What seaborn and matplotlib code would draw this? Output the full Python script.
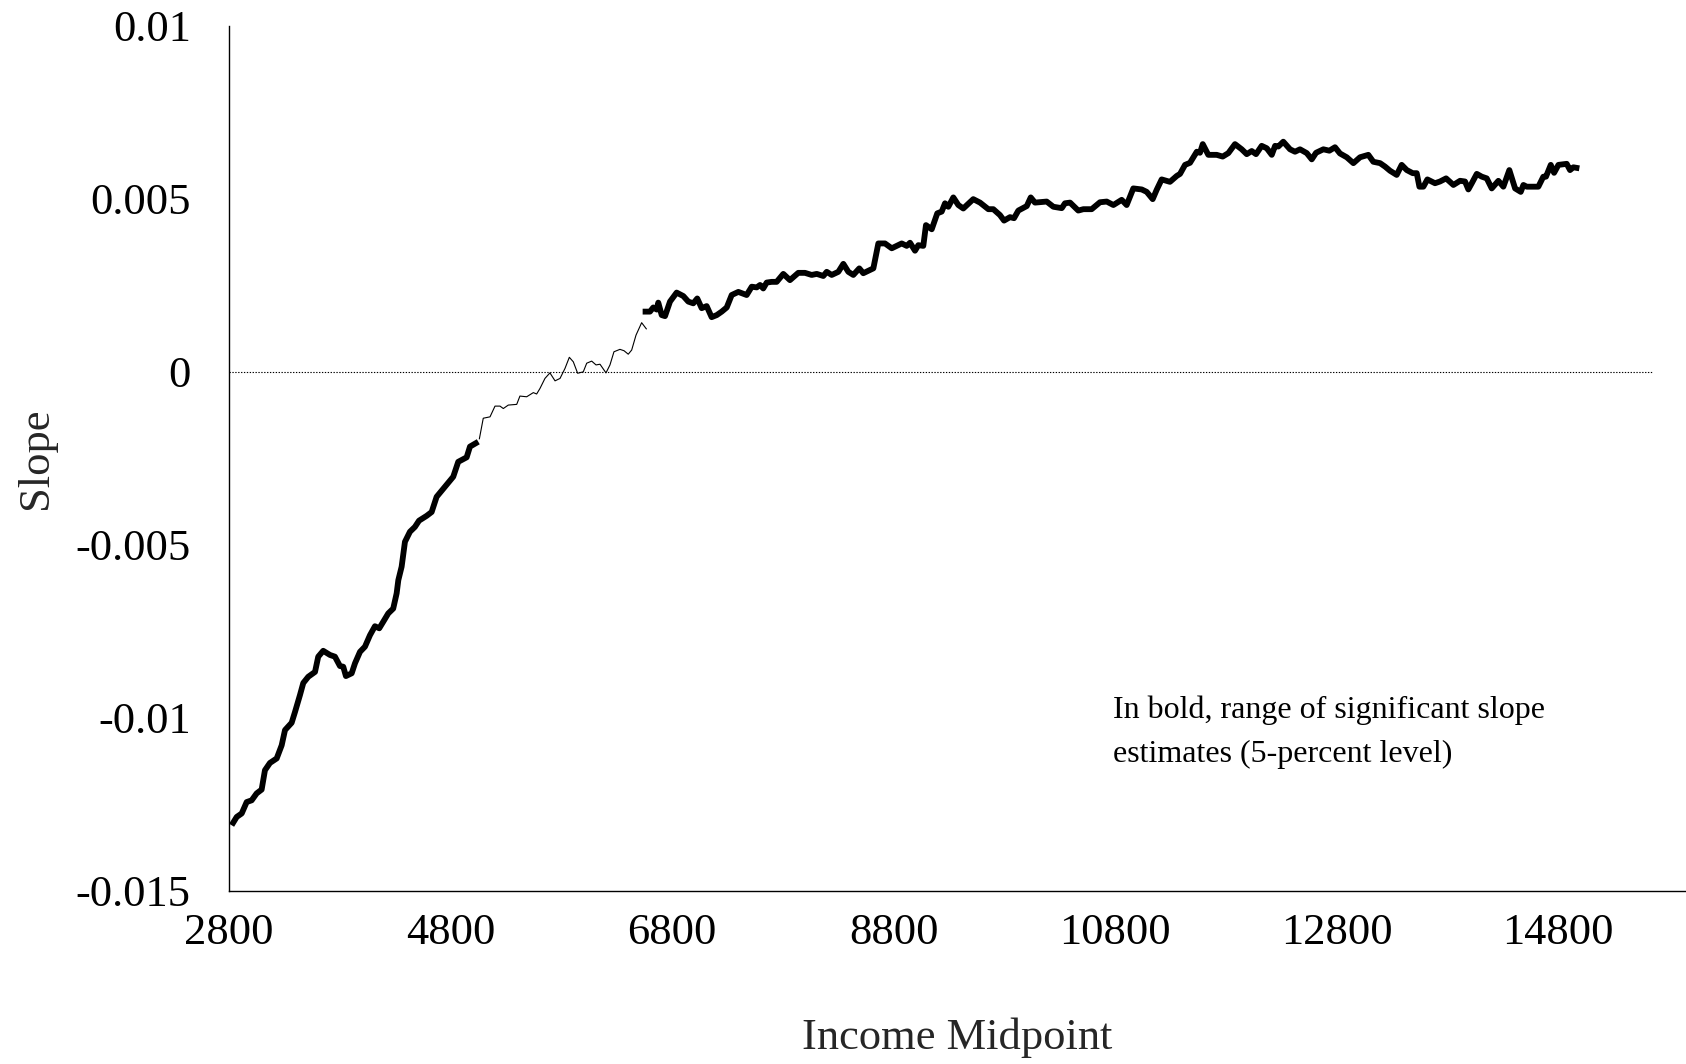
import matplotlib
matplotlib.use("Agg")
import matplotlib.pyplot as plt
import pandas as pd
import seaborn as sns

# Rolling slope estimates by income midpoint.
# Bold segments: estimates significant at the 5-percent level.
low_income = [2824, 2870, 2915, 2960, 3005, 3050, 3095, 3125, 3170, 3231,
              3276, 3306, 3366, 3396, 3441, 3471, 3516, 3577, 3606, 3651,
              3712, 3757, 3802, 3832, 3856, 3908, 3938, 3983, 4028, 4073,
              4118, 4157, 4193, 4238, 4283, 4314, 4329, 4359, 4389, 4434,
              4479, 4516, 4585, 4630, 4675, 4750, 4825, 4870, 4946, 4976,
              5051]
low_slope = [-0.01310, -0.01286, -0.01276, -0.01243, -0.01238, -0.01218,
             -0.01207, -0.01151, -0.01130, -0.01117, -0.01079, -0.01035,
             -0.01014, -0.00983, -0.00934, -0.00899, -0.00881, -0.00867,
             -0.00823, -0.00806, -0.00818, -0.00823, -0.00850, -0.00852,
             -0.00879, -0.00871, -0.00842, -0.00809, -0.00794, -0.00761,
             -0.00735, -0.00741, -0.00722, -0.00698, -0.00684, -0.00640,
             -0.00602, -0.00563, -0.00491, -0.00462, -0.00448, -0.00430,
             -0.00416, -0.00405, -0.00361, -0.00332, -0.00303, -0.00260,
             -0.00247, -0.00216, -0.00202]

mid_income = [5060, 5096, 5157, 5202, 5247, 5277, 5322, 5398, 5427, 5488,
              5548, 5578, 5608, 5653, 5698, 5744, 5789, 5834, 5873, 5909,
              5948, 5999, 6030, 6075, 6114, 6150, 6204, 6240, 6276, 6330,
              6367, 6405, 6436, 6475, 6526, 6571]
mid_slope = [-0.00195, -0.00134, -0.00130, -0.00099, -0.00099, -0.00106,
             -0.00096, -0.00094, -0.00070, -0.00072, -0.00060, -0.00064,
             -0.00048, -0.00019, -0.00003, -0.00026, -0.00019, 0.00010,
             0.00042, 0.00029, -0.00004, 0.00000, 0.00025, 0.00031,
             0.00020, 0.00022, -0.00003, 0.00020, 0.00058, 0.00065,
             0.00061, 0.00051, 0.00063, 0.00106, 0.00142, 0.00123]

high_income = [6535, 6601, 6631, 6662, 6676, 6707, 6737, 6782, 6842, 6902,
               6947, 6992, 7028, 7068, 7113, 7158, 7204, 7249, 7294, 7339,
               7399, 7474, 7520, 7565, 7595, 7624, 7655, 7700, 7745, 7805,
               7865, 7940, 8001, 8061, 8107, 8166, 8197, 8242, 8302, 8347,
               8392, 8437, 8491, 8527, 8618, 8663, 8723, 8784, 8874, 8919,
               8949, 8994, 9024, 9069, 9093, 9145, 9195, 9235, 9265, 9295,
               9340, 9385, 9430, 9520, 9581, 9656, 9701, 9761, 9798, 9852,
               9888, 9927, 10003, 10039, 10077, 10183, 10243, 10319, 10348,
               10394, 10468, 10514, 10589, 10664, 10725, 10785, 10860, 10905,
               10965, 11041, 11086, 11140, 11176, 11221, 11296, 11357, 11387,
               11432, 11477, 11538, 11567, 11592, 11642, 11718, 11772, 11823,
               11883, 11944, 11989, 12034, 12073, 12124, 12170, 12215, 12245,
               12274, 12319, 12380, 12425, 12470, 12531, 12576, 12615, 12681,
               12735, 12786, 12831, 12892, 12952, 13012, 13087, 13132, 13193,
               13238, 13283, 13343, 13388, 13434, 13488, 13524, 13548, 13584,
               13620, 13689, 13734, 13789, 13855, 13915, 13960, 13990, 14021,
               14066, 14111, 14156, 14201, 14261, 14306, 14360, 14412, 14463,
               14487, 14517, 14622, 14667, 14691, 14734, 14764, 14803, 14878,
               14908, 14938, 14992]
high_slope = [0.00174, 0.00174, 0.00186, 0.00180, 0.00200, 0.00164, 0.00161,
              0.00203, 0.00229, 0.00219, 0.00203, 0.00198, 0.00212, 0.00184,
              0.00190, 0.00158, 0.00164, 0.00174, 0.00186, 0.00222, 0.00231,
              0.00222, 0.00246, 0.00244, 0.00251, 0.00241, 0.00258, 0.00260,
              0.00260, 0.00283, 0.00265, 0.00286, 0.00286, 0.00280, 0.00283,
              0.00277, 0.00289, 0.00280, 0.00289, 0.00312, 0.00289, 0.00280,
              0.00299, 0.00285, 0.00299, 0.00371, 0.00371, 0.00357, 0.00371,
              0.00364, 0.00373, 0.00350, 0.00366, 0.00364, 0.00424, 0.00412,
              0.00458, 0.00463, 0.00487, 0.00477, 0.00504, 0.00482, 0.00472,
              0.00499, 0.00489, 0.00470, 0.00470, 0.00453, 0.00437, 0.00447,
              0.00444, 0.00466, 0.00479, 0.00504, 0.00489, 0.00492, 0.00477,
              0.00473, 0.00487, 0.00489, 0.00466, 0.00470, 0.00470, 0.00490,
              0.00492, 0.00482, 0.00497, 0.00482, 0.00530, 0.00527, 0.00520,
              0.00499, 0.00526, 0.00556, 0.00549, 0.00566, 0.00572, 0.00598,
              0.00604, 0.00636, 0.00633, 0.00658, 0.00627, 0.00627, 0.00622,
              0.00632, 0.00658, 0.00643, 0.00629, 0.00638, 0.00629, 0.00653,
              0.00646, 0.00627, 0.00653, 0.00651, 0.00665, 0.00643, 0.00636,
              0.00643, 0.00632, 0.00614, 0.00633, 0.00643, 0.00639, 0.00649,
              0.00631, 0.00620, 0.00603, 0.00620, 0.00627, 0.00607, 0.00603,
              0.00593, 0.00581, 0.00569, 0.00598, 0.00583, 0.00574, 0.00574,
              0.00535, 0.00535, 0.00556, 0.00545, 0.00550, 0.00559, 0.00540,
              0.00552, 0.00550, 0.00527, 0.00545, 0.00572, 0.00564, 0.00559,
              0.00530, 0.00552, 0.00535, 0.00583, 0.00530, 0.00520, 0.00540,
              0.00535, 0.00535, 0.00564, 0.00564, 0.00598, 0.00575, 0.00598,
              0.00601, 0.00583, 0.00591, 0.00588]

x_ticks = [2800, 4800, 6800, 8800, 10800, 12800, 14800]
y_ticks = [0.01, 0.005, 0.0, -0.005, -0.01, -0.015]
y_tick_labels = ["0.01", "0.005", "0", "-0.005", "-0.01", "-0.015"]

note_lines = ["In bold, range of significant slope",
              "estimates (5-percent level)"]

sns.set_style("white")
plt.rcParams["font.family"] = ["Liberation Serif", "DejaVu Serif"]
plt.rcParams["axes.unicode_minus"] = False

fig = plt.figure(figsize=(16.86, 10.64), dpi=100)
ax = fig.add_axes([0.1358, 0.1626, 0.8642, 0.8132])

x_min, x_max = 2800, 15955
ax.set_xlim(x_min, x_max)
ax.set_ylim(-0.015, 0.01)

# dotted zero reference
ax.hlines(0, x_min, 15657, colors="black", linewidth=0.8,
          linestyles=(0, (1.2, 1.4)), zorder=1)

segments = [
    (low_income, low_slope, 4.2),
    (mid_income, mid_slope, 0.8),
    (high_income, high_slope, 4.2),
]
for xs, ys, lw in segments:
    df = pd.DataFrame({"income": xs, "slope": ys})
    sns.lineplot(data=df, x="income", y="slope", ax=ax, sort=False,
                 estimator=None, color="black", linewidth=lw,
                 solid_joinstyle="round", solid_capstyle="butt", zorder=3)

ax.set_xticks(x_ticks)
ax.set_xticklabels([str(t) for t in x_ticks])
ax.set_yticks(y_ticks)
ax.set_yticklabels(y_tick_labels)

for side in ("top", "right"):
    ax.spines[side].set_visible(False)
for side in ("left", "bottom"):
    ax.spines[side].set_color("black")
    ax.spines[side].set_linewidth(1.0)

ax.tick_params(axis="both", which="major", direction="out", length=9.5,
               width=1.0, color="black", labelsize=32, labelcolor="black")
ax.tick_params(axis="x", pad=6)
ax.tick_params(axis="y", pad=18)

ax.set_xlabel("Income Midpoint", fontsize=32)
ax.xaxis.label.set_va("center")
ax.xaxis.set_label_coords(0.5, -0.170)
ax.set_ylabel("Slope", fontsize=32)
ax.yaxis.label.set_va("center")
ax.yaxis.set_label_coords(-0.1325, 0.5005)

ax.text(10782, -0.01001, note_lines[0], fontsize=23, ha="left",
        va="baseline", color="black")
ax.text(10782, -0.01128, note_lines[1], fontsize=23, ha="left",
        va="baseline", color="black")

fig.savefig("out.png", dpi=100, facecolor="white")
